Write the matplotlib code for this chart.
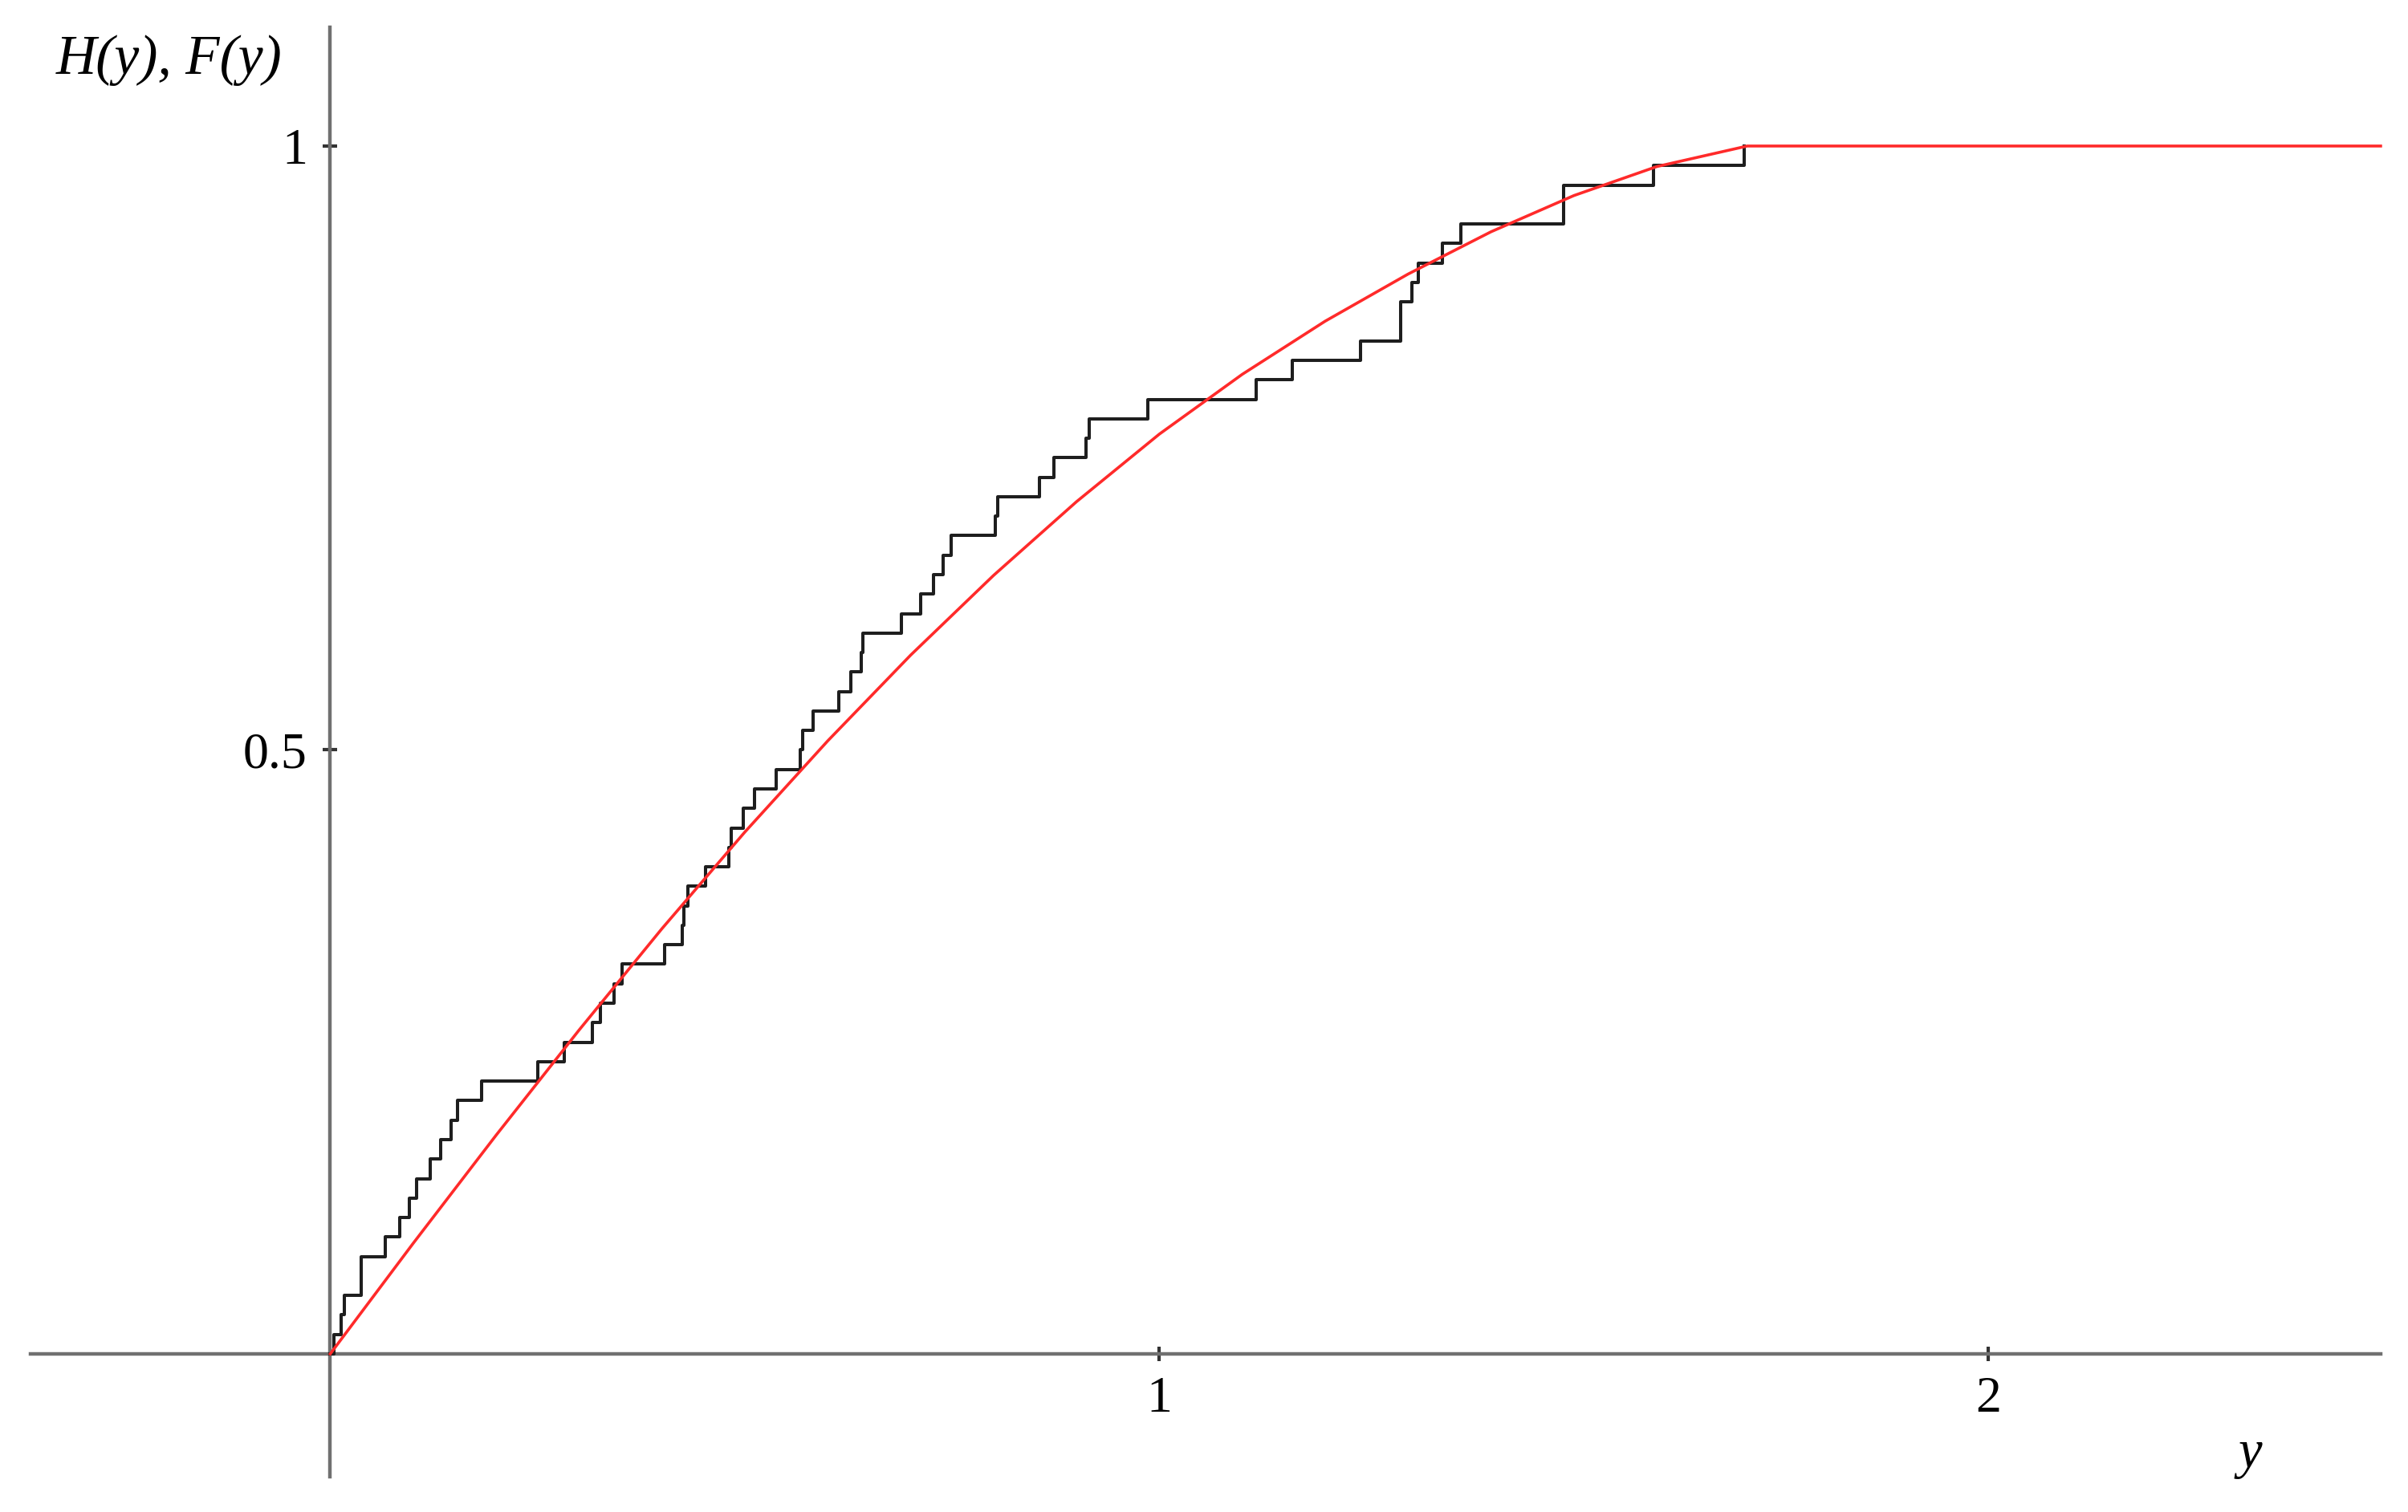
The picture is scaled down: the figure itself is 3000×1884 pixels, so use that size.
import numpy as np
import matplotlib
matplotlib.use("Agg")
import matplotlib.pyplot as plt

# ---- data ----
n_sample = 62
# x positions where the empirical CDF H(y) jumps, and level (count) after each jump
jump_x = [0.0045, 0.013, 0.017, 0.037, 0.066, 0.084, 0.095, 0.104, 0.121, 0.133,
          0.146, 0.154, 0.183, 0.250, 0.282, 0.316, 0.326, 0.342, 0.352, 0.403,
          0.425, 0.427, 0.431, 0.453, 0.481, 0.484, 0.498, 0.512, 0.538, 0.567,
          0.570, 0.582, 0.613, 0.628, 0.640, 0.642, 0.689, 0.712, 0.728, 0.739,
          0.749, 0.802, 0.805, 0.855, 0.873, 0.912, 0.915, 0.986, 1.117, 1.160,
          1.243, 1.291, 1.305, 1.312, 1.341, 1.364, 1.488, 1.596, 1.705]
jump_level = [1, 2, 3, 5, 6, 7, 8, 9, 10, 11,
              12, 13, 14, 15, 16, 17, 18, 19, 20, 21,
              22, 23, 24, 25, 26, 27, 28, 29, 30, 31,
              32, 33, 34, 35, 36, 37, 38, 39, 40, 41,
              42, 43, 44, 45, 46, 47, 48, 49, 50, 51,
              52, 54, 55, 56, 57, 58, 60, 61, 62]

# theoretical CDF F(y)
f_x = [0.0, 0.1, 0.2, 0.3, 0.4, 0.5, 0.6, 0.7, 0.8, 0.9,
       1.0, 1.1, 1.2, 1.3, 1.4, 1.5, 1.6, 1.709, 2.473]
f_y = [0.0, 0.0915, 0.181, 0.268, 0.352, 0.432, 0.5075, 0.5785, 0.6445, 0.7055,
       0.7615, 0.811, 0.855, 0.894, 0.929, 0.959, 0.983, 1.0, 1.0]

x_ticks = [1, 2]
x_tick_labels = ["1", "2"]
y_ticks = [0.5, 1]
y_tick_labels = ["0.5", "1"]

# ---- figure ----
fig = plt.figure(figsize=(30, 18.84), dpi=100)
ax = fig.add_axes([0, 0, 1, 1])
ax.set_xlim(-0.3983, 2.506)
ax.set_ylim(-0.1309, 1.1209)

axis_color = "#707070"
for s in ["top", "right"]:
    ax.spines[s].set_visible(False)
ax.spines["left"].set_position(("data", 0))
ax.spines["bottom"].set_position(("data", 0))
ax.spines["left"].set_bounds(-0.1017, 1.098)
ax.spines["bottom"].set_bounds(-0.3615, 2.473)
for s in ["left", "bottom"]:
    ax.spines[s].set_color(axis_color)
    ax.spines[s].set_linewidth(3.2)

ax.set_xticks(x_ticks)
ax.set_xticklabels(x_tick_labels)
ax.set_yticks(y_ticks)
ax.set_yticklabels(y_tick_labels)
ax.tick_params(axis="both", direction="inout", length=13, width=3, color="#333333",
               labelsize=46, pad=14)
for lab in ax.get_xticklabels() + ax.get_yticklabels():
    lab.set_fontfamily("Liberation Serif")

# step function H(y)
sx = np.concatenate([[0.0], np.array(jump_x)])
sy = np.concatenate([[0.0], np.array(jump_level) / n_sample])
ax.step(sx, sy, where="post", color="#1e1e1e", lw=2.9, zorder=3)

# F(y)
ax.plot(f_x, f_y, color="#ff2a2a", lw=2.6, zorder=4, solid_joinstyle="round")

fig.text(0.0233, 0.960, "H(y), F(y)", fontsize=50, fontstyle="italic",
         family="Liberation Serif", ha="left", va="center")
fig.text(0.9343, 0.0382, "y", fontsize=48, fontstyle="italic",
         family="Liberation Serif", ha="center", va="center")

fig.savefig("out.png", dpi=100)
